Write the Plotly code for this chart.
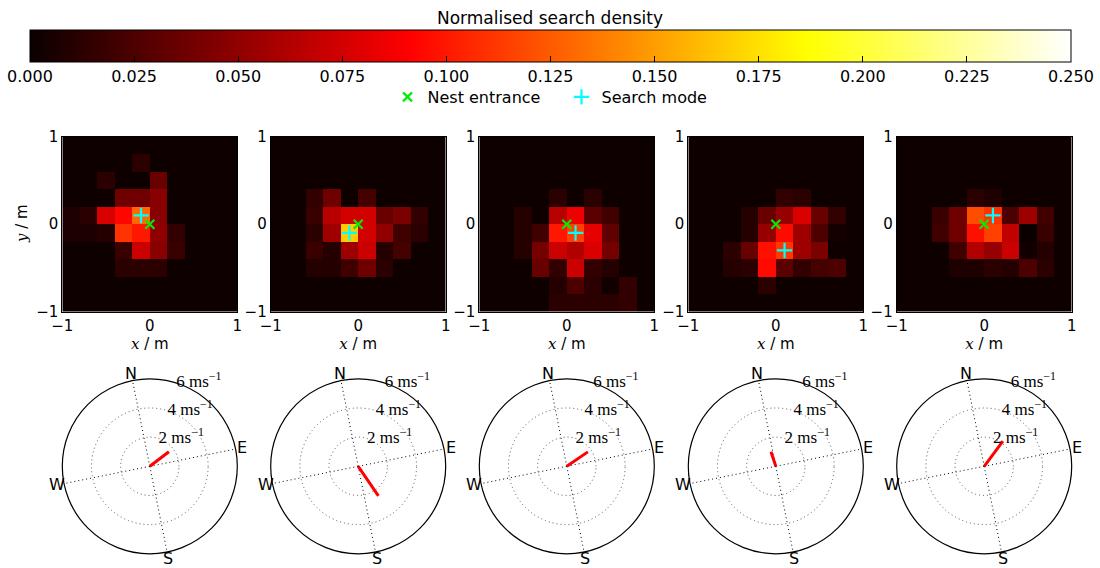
import math
import plotly.graph_objects as go

# ---- data ---------------------------------------------------------------
x_centres = [-0.9, -0.7, -0.5, -0.3, -0.1, 0.1, 0.3, 0.5, 0.7, 0.9]
y_centres = [0.9, 0.7, 0.5, 0.3, 0.1, -0.1, -0.3, -0.5, -0.7, -0.9]  # rows listed top to bottom

density_1 = [
    [.002, .002, .002, .002, .002, .002, .002, .002, .002, .002],
    [.002, .002, .002, .002, .012, .002, .002, .002, .002, .002],
    [.002, .002, .012, .002, .002, .035, .002, .002, .002, .002],
    [.002, .002, .002, .038, .038, .047, .002, .002, .002, .002],
    [.008, .012, .077, .093, .130, .047, .002, .002, .002, .002],
    [.007, .007, .010, .110, .100, .050, .015, .002, .002, .002],
    [.002, .002, .002, .017, .072, .047, .018, .002, .002, .002],
    [.002, .002, .002, .012, .012, .012, .002, .002, .002, .002],
    [.002, .002, .002, .002, .002, .002, .002, .002, .002, .002],
    [.002, .002, .002, .002, .002, .002, .002, .002, .002, .002],
]
density_2 = [
    [.002, .002, .002, .002, .002, .002, .002, .002, .002, .002],
    [.002, .002, .002, .002, .002, .002, .002, .002, .002, .002],
    [.002, .002, .002, .002, .002, .002, .002, .002, .002, .002],
    [.002, .002, .015, .038, .002, .022, .002, .002, .002, .002],
    [.002, .002, .018, .065, .075, .075, .035, .042, .015, .002],
    [.002, .002, .012, .055, .168, .075, .050, .020, .012, .002],
    [.002, .002, .018, .010, .055, .072, .010, .022, .002, .002],
    [.002, .002, .010, .010, .020, .038, .012, .002, .002, .002],
    [.002, .002, .002, .002, .002, .002, .002, .002, .002, .002],
    [.002, .002, .002, .002, .002, .002, .002, .002, .002, .002],
]
density_3 = [
    [.002, .002, .002, .002, .002, .002, .002, .002, .002, .002],
    [.002, .002, .002, .002, .002, .002, .002, .002, .002, .002],
    [.002, .002, .002, .002, .002, .002, .002, .002, .002, .002],
    [.002, .002, .002, .002, .012, .002, .012, .002, .002, .002],
    [.002, .002, .010, .002, .065, .085, .030, .020, .002, .002],
    [.002, .002, .010, .020, .100, .115, .082, .032, .002, .002],
    [.002, .002, .010, .040, .072, .062, .078, .040, .002, .002],
    [.002, .002, .002, .035, .015, .072, .015, .010, .002, .002],
    [.002, .002, .002, .002, .010, .025, .012, .003, .015, .002],
    [.002, .002, .002, .002, .012, .012, .012, .012, .015, .002],
]
density_4 = [
    [.002, .002, .002, .002, .002, .002, .002, .002, .002, .002],
    [.002, .002, .002, .002, .002, .002, .002, .002, .002, .002],
    [.002, .002, .002, .002, .002, .002, .002, .002, .002, .002],
    [.002, .002, .002, .002, .002, .015, .012, .002, .002, .002],
    [.002, .002, .002, .010, .035, .052, .078, .035, .015, .002],
    [.002, .002, .002, .010, .052, .095, .055, .025, .004, .002],
    [.002, .002, .012, .035, .097, .112, .055, .042, .002, .002],
    [.002, .002, .010, .012, .095, .030, .015, .022, .025, .002],
    [.002, .002, .002, .002, .012, .002, .002, .002, .002, .002],
    [.002, .002, .002, .002, .002, .002, .002, .002, .002, .002],
]
density_5 = [
    [.002, .002, .002, .002, .002, .002, .002, .002, .002, .002],
    [.002, .002, .002, .002, .002, .002, .002, .002, .002, .002],
    [.002, .002, .002, .002, .002, .002, .002, .002, .002, .002],
    [.002, .002, .002, .002, .012, .008, .002, .002, .002, .002],
    [.002, .002, .018, .038, .120, .110, .025, .055, .020, .002],
    [.002, .002, .020, .038, .097, .115, .068, .000, .018, .002],
    [.002, .002, .002, .020, .062, .052, .072, .003, .010, .002],
    [.002, .002, .002, .008, .008, .012, .010, .025, .012, .002],
    [.002, .002, .002, .002, .002, .002, .002, .002, .002, .002],
    [.002, .002, .002, .002, .002, .002, .002, .002, .002, .002],
]
densities = [density_1, density_2, density_3, density_4, density_5]

nest_x = [0.0, 0.0, 0.0, 0.0, 0.0]
nest_y = [0.0, 0.0, 0.0, 0.0, 0.0]
mode_x = [-0.1, -0.1, 0.1, 0.1, 0.1]
mode_y = [0.1, -0.1, -0.1, -0.3, 0.1]

wind_speed = [1.65, 2.45, 1.75, 1.05, 2.15]      # m/s
wind_bearing = [64, 157, 67, 353, 48]           # degrees clockwise from N

colorbar_ticks = [0.0, 0.025, 0.05, 0.075, 0.1, 0.125, 0.15, 0.175, 0.2, 0.225, 0.25]
speed_ticks = [2, 4, 6]
speed_labels = ["2 ms<sup>\u22121</sup>", "4 ms<sup>\u22121</sup>", "6 ms<sup>\u22121</sup>"]
speed_label_bearing = 29
compass_ticks = [0, 90, 180, 270]
compass_labels = ["N", "E", "S", "W"]

# ---- layout geometry (pixels) ----------------------------------------------
W, H = 1100, 568
panel_cx = [149.8, 358.2, 566.8, 775.8, 984.2]
half = 87.5
heat_top, heat_bot = 136.7, 311.7
polar_cy, polar_r = 466.3, 87.5
compass_rotation = 101.4          # screen angle of north, degrees anticlockwise from east
compass_label_gap = 7.0           # letters sit just outside the outer ring

SANS = "DejaVu Sans"
SERIF = "Liberation Serif"

hot = [
    [0.0, "rgb(10,0,0)"],
    [0.365079, "rgb(255,0,0)"],
    [0.746032, "rgb(255,255,0)"],
    [1.0, "rgb(255,255,255)"],
]

fig = go.Figure()
annotations = [
    dict(text="Normalised search density", x=0.5, y=1 - 18 / H, xref="paper",
         yref="paper", showarrow=False, xanchor="center", yanchor="middle",
         font=dict(family=SANS, size=17, color="black")),
    dict(text="<span style=\"font-family:'DejaVu Serif'\"><i>y</i></span> / m",
         x=22 / W, y=1 - 224 / H, xref="paper", yref="paper", showarrow=False,
         textangle=-90, xanchor="center", yanchor="middle",
         font=dict(family=SANS, size=15, color="black")),
]

for i in range(5):
    sfx = "" if i == 0 else str(i + 1)
    fig.add_trace(go.Heatmap(
        z=densities[i], x=x_centres, y=y_centres, coloraxis="coloraxis",
        xaxis="x" + sfx, yaxis="y" + sfx, hoverinfo="skip",
    ))
    fig.add_trace(go.Scatter(
        x=[nest_x[i]], y=[nest_y[i]], mode="markers", name="Nest entrance",
        legendgroup="nest", showlegend=(i == 0),
        marker=dict(symbol="x-thin", size=9, color="#00ee00",
                    line=dict(width=2.2, color="#00ee00")),
        xaxis="x" + sfx, yaxis="y" + sfx,
    ))
    fig.add_trace(go.Scatter(
        x=[mode_x[i]], y=[mode_y[i]], mode="markers", name="Search mode",
        legendgroup="mode", showlegend=(i == 0),
        marker=dict(symbol="cross-thin", size=11, color="#00ffff",
                    line=dict(width=2.2, color="#00ffff")),
        xaxis="x" + sfx, yaxis="y" + sfx,
    ))
    fig.add_trace(go.Scatterpolar(
        r=[0, wind_speed[i]], theta=[wind_bearing[i], wind_bearing[i]],
        mode="lines", line=dict(color="red", width=3), showlegend=False,
        subplot="polar" + sfx, hoverinfo="skip",
    ))
    # speed ring labels, written just outside each ring
    fig.add_trace(go.Scatterpolar(
        r=speed_ticks, theta=[speed_label_bearing] * len(speed_ticks),
        mode="text", text=speed_labels, textposition="middle right",
        textfont=dict(family=SERIF, size=17, color="black"),
        showlegend=False, subplot="polar" + sfx, hoverinfo="skip", cliponaxis=False,
    ))

    cx = panel_cx[i]
    x_title = dict(text="<span style=\"font-family:'DejaVu Serif'\"><i>x</i></span> / m",
                   font=dict(family=SANS, size=15, color="black"), standoff=2)
    axis_common = dict(range=[-1, 1], showgrid=False, zeroline=False, showline=True,
                       mirror=True, linecolor="black", linewidth=1,
                       tickvals=[-1, 0, 1], ticktext=["\u22121", "0", "1"],
                       tickfont=dict(family=SANS, size=15, color="black"),
                       ticks="", fixedrange=True, automargin=False)
    fig.layout["xaxis" + sfx] = dict(
        axis_common, domain=[(cx - half) / W, (cx + half) / W],
        anchor="y" + sfx, title=x_title)
    fig.layout["yaxis" + sfx] = dict(
        axis_common, domain=[1 - heat_bot / H, 1 - heat_top / H], anchor="x" + sfx)

    fig.layout["polar" + sfx] = dict(
        domain=dict(x=[(cx - polar_r) / W, (cx + polar_r) / W],
                    y=[1 - (polar_cy + polar_r) / H, 1 - (polar_cy - polar_r) / H]),
        bgcolor="white",
        angularaxis=dict(
            rotation=compass_rotation, direction="clockwise",
            tickmode="array", tickvals=compass_ticks, showticklabels=False,
            showline=True, linecolor="black", linewidth=1.2,
            showgrid=True, gridcolor="black", griddash="1px,3px", gridwidth=1,
            ticks="",
        ),
        radialaxis=dict(
            range=[0, 6], tickmode="array", tickvals=speed_ticks,
            showticklabels=False, showline=False, showgrid=True, gridcolor="#555",
            griddash="1px,3px", gridwidth=1, ticks="",
        ),
    )

    # compass letters around the outer ring
    for bearing, letter in zip(compass_ticks, compass_labels):
        ang = math.radians(compass_rotation - bearing)
        rr = polar_r + compass_label_gap
        annotations.append(dict(
            text=letter, x=(cx + rr * math.cos(ang)) / W,
            y=1 - (polar_cy - rr * math.sin(ang)) / H,
            xref="paper", yref="paper", showarrow=False,
            xanchor="center", yanchor="middle", borderpad=0,
            font=dict(family=SANS, size=16, color="black"),
        ))

fig.update_layout(
    width=W, height=H, margin=dict(l=0, r=0, t=0, b=0, autoexpand=False),
    paper_bgcolor="white", plot_bgcolor="white",
    coloraxis=dict(
        colorscale=hot, cmin=0, cmax=0.25,
        colorbar=dict(
            orientation="h", x=550.5 / W, xanchor="center",
            len=1041 / W, lenmode="fraction",
            y=1 - 30 / H, yanchor="top", thickness=32, thicknessmode="pixels",
            xpad=0, ypad=0, outlinewidth=1, outlinecolor="black",
            tickmode="array", tickvals=colorbar_ticks, tickformat=".3f",
            ticks="inside", ticklen=6, tickcolor="black",
            tickfont=dict(family=SANS, size=16, color="black"),
        ),
    ),
    legend=dict(
        orientation="h", x=561.5 / W, xanchor="center", y=1 - 97 / H, yanchor="middle",
        font=dict(family=SANS, size=16, color="black"), bgcolor="rgba(0,0,0,0)",
        itemwidth=30, entrywidth=129, entrywidthmode="pixels",
    ),
    annotations=annotations,
)

fig.write_html("out.html")
